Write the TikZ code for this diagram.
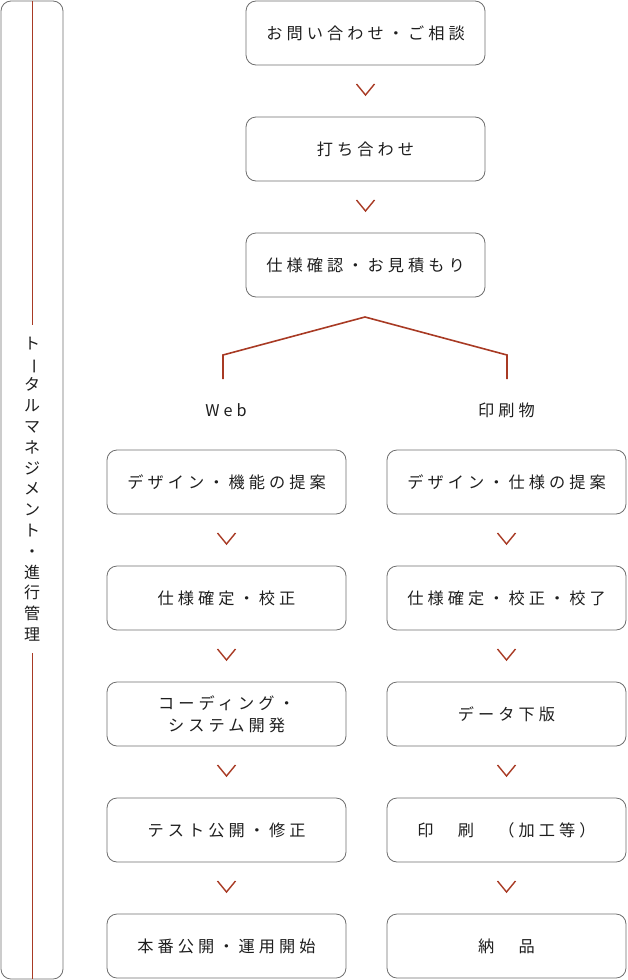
\documentclass[tikz,border=0pt]{standalone}
\usepackage{fontspec}
\setmainfont{Noto Sans CJK JP}[LetterSpace=25]
\newfontfamily\jpplain{Noto Sans CJK JP}
\usetikzlibrary{calc}
\definecolor{flowred}{HTML}{A83A24}
\definecolor{flowgray}{HTML}{6E6E6E}
\definecolor{flowtext}{HTML}{1E1E1E}

\begin{document}
\begin{tikzpicture}[x=1pt, y=-1pt, every node/.style={font=\fontsize{16.2}{22}\selectfont, text=flowtext}]
\tikzstyle{stage} = [draw=flowgray, line width=0.8pt, rounded corners=10pt, minimum width=239pt, minimum height=64pt, align=center]
\tikzstyle{chev} = [draw=flowred, line width=1.4pt]
\tikzstyle{branch} = [draw=flowred, line width=1.6pt]

\useasboundingbox (0,0) rectangle (627,980);

% Management bar
\node[draw=flowgray, line width=0.8pt, rounded corners=10pt, minimum width=62pt, minimum height=978pt] (frame) at (32,490) {};
\node[align=center, inner sep=12pt, font=\jpplain\fontsize{16}{20.8}\selectfont] (mgmt) at (32,489) {ト\\\rotatebox[origin=c]{-90}{ー}\\タ\\ル\\マ\\ネ\\ジ\\メ\\ン\\ト\\・\\進\\行\\管\\理};
\draw[flowred, line width=0.8pt] (frame.north) -- (mgmt.north);
\draw[flowred, line width=0.8pt] (mgmt.south) -- (frame.south);

% Nodes
\node[stage] (q1) at (365.5,33) {お問い合わせ・ご相談};
\node[stage] (q2) at (365.5,149) {打ち合わせ};
\node[stage] (q3) at (365.5,265) {仕様確認・お見積もり};

\node (web) at (226,410) {Web};
\node (print) at (506.5,410) {印刷物};

\node[stage] (w1) at (226.5,482) {デザイン・機能の提案};
\node[stage] (w2) at (226.5,598) {仕様確定・校正};
\node[stage] (w3) at (226.5,714) {コーディング・\\システム開発};
\node[stage] (w4) at (226.5,830) {テスト公開・修正};
\node[stage] (w5) at (226.5,946) {本番公開・運用開始};

\node[stage] (p1) at (506.5,482) {デザイン・仕様の提案};
\node[stage] (p2) at (506.5,598) {仕様確定・校正・校了};
\node[stage] (p3) at (506.5,714) {データ下版};
\node[stage] (p4) at (506.5,830) {印　刷　（加工等）};
\node[stage] (p5) at (506.5,946) {納　品};

% Branch
\coordinate (fork) at (365,317);
\coordinate (webtop) at (223,379);
\coordinate (printtop) at (507,379);
\draw[branch] (webtop) -- ++(0,-24) -- (fork) -- (507,355) -- (printtop);

% Arrows
\foreach \a/\b in {q1/q2, q2/q3, w1/w2, w2/w3, w3/w4, w4/w5, p1/p2, p2/p3, p3/p4, p4/p5}
  \draw[chev] ($(\a.south)!0.5!(\b.north)$) ++(-9,-7) -- ++(9,11) -- ++(9,-11);

\end{tikzpicture}
\end{document}
